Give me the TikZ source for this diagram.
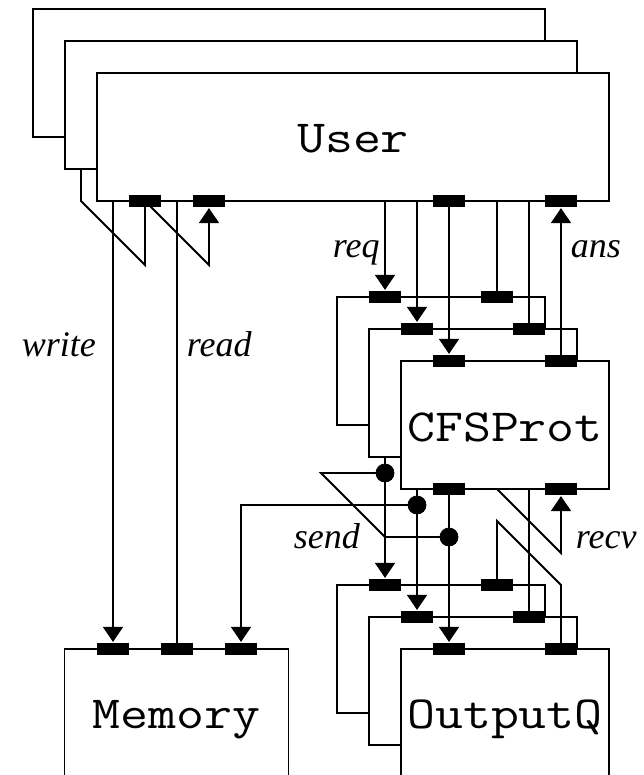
\documentclass[tikz,border=0pt]{standalone}
\usepackage{fontspec}
\setmainfont{Liberation Serif}
\usetikzlibrary{arrows.meta}
\begin{document}
\begin{tikzpicture}[x=1pt,y=-1pt, line width=1.8pt,
  port/.style={fill=black, inner sep=0pt, minimum width=32pt, minimum height=12.4pt},
  box/.style={draw, inner sep=0pt, minimum height=128pt},
  boxlabel/.style={font=\ttfamily\fontsize{46pt}{46pt}\selectfont, inner sep=0pt, anchor=base, xscale=1.18, transform shape},
  flowlabel/.style={font=\itshape\fontsize{36pt}{36pt}\selectfont, inner sep=0pt, anchor=base west},
  flow/.style={-{Triangle[width=20pt,length=15pt]}},
  dot/.style={circle, fill=black, draw=black, line width=0.8pt, inner sep=0pt, minimum size=18pt}
]
\useasboundingbox (0,0) rectangle (644,775);

% ---------- User stack ----------
\draw (65,137) -- (33,137) -- (33,9) -- (545,9) -- (545,41);
\draw (97,169) -- (65,169) -- (65,41) -- (577,41) -- (577,73);
\node[box, minimum width=512pt] (user) at (353,137) {};
\node[boxlabel] (tu) at (353,153) {User};
\node[port] (u1) at (145,201) {};
\node[port] (u2) at (209,201) {};
\node[port] (u3) at (449,201) {};
\node[port] (u4) at (561,201) {};

% ---------- CFSProt stack ----------
\draw (369,425) -- (337,425) -- (337,297) -- (545,297) -- (545,329);
\draw (401,457) -- (369,457) -- (369,329) -- (577,329) -- (577,361);
\node[box, minimum width=208pt] (cfs) at (505,425) {};
\node[boxlabel] (tc) at (505,441.5) {CFSProt};
\node[port] (cb1) at (385,297) {};
\node[port] (cb2) at (497,297) {};
\node[port] (cm1) at (417,329) {};
\node[port] (cm2) at (529,329) {};
\node[port] (cf1) at (449,361) {};
\node[port] (cf2) at (561,361) {};
\node[port] (cf3) at (449,489) {};
\node[port] (cf4) at (561,489) {};

% ---------- OutputQ stack ----------
\draw (369,713) -- (337,713) -- (337,585) -- (545,585) -- (545,617);
\draw (401,745) -- (369,745) -- (369,617) -- (577,617) -- (577,649);
\node[box, minimum width=208pt] (outq) at (505,713) {};
\node[boxlabel] (to) at (505,728) {OutputQ};
\node[port] (ob1) at (385,585) {};
\node[port] (ob2) at (497,585) {};
\node[port] (om1) at (417,617) {};
\node[port] (om2) at (529,617) {};
\node[port] (of1) at (449,649) {};
\node[port] (of2) at (561,649) {};

% ---------- Memory ----------
\node[box, minimum width=224pt] (mem) at (176.5,713) {};
\node[boxlabel] (tm) at (176.5,728) {Memory};
\node[port] (m1) at (113,649) {};
\node[port] (m2) at (177,649) {};
\node[port] (m3) at (241,649) {};

% ---------- User <-> Memory ----------
\coordinate (wb) at (81,169);
\coordinate (wb1) at (81,201);
\coordinate (wz) at (145,265);
\draw (wb) -- (wb1) -- (wz) -- (u1.center);
\coordinate (wm) at (113,201);
\draw[flow] (wm) -- (m1.north);
\coordinate (rz) at (209,265);
\draw[flow] (u1.center) -- (rz) -- (u2.south);
\coordinate (rm) at (177,201);
\draw (rm) -- (m2.center);

% ---------- User <-> CFSProt ----------
\coordinate (qb) at (385,201);
\draw[flow] (qb) -- (cb1.north);
\coordinate (qm) at (417,201);
\draw[flow] (qm) -- (cm1.north);
\draw[flow] (u3.center) -- (cf1.north);
\coordinate (ab) at (497,201);
\draw (ab) -- (cb2.center);
\coordinate (am) at (529,201);
\draw (am) -- (cm2.center);
\draw[flow] (cf2.center) -- (u4.south);

% ---------- CFSProt -> OutputQ / Memory (send) ----------
\coordinate (sb) at (385,457);
\coordinate (j1) at (385,473);
\draw[flow] (sb) -- (ob1.north);
\coordinate (sm) at (417,489);
\coordinate (j2) at (417,505);
\draw[flow] (sm) -- (om1.north);
\coordinate (j3) at (449,537);
\draw[flow] (cf3.center) -- (of1.north);
\coordinate (k1) at (321,473);
\coordinate (k2) at (385,537);
\draw (j1) -- (k1) -- (k2) -- (j3);
\coordinate (k3) at (241,505);
\draw[flow] (j2) -- (k3) -- (m3.north);

% ---------- OutputQ -> CFSProt (recv) ----------
\coordinate (vb) at (497,489);
\coordinate (vz) at (561,553);
\draw[flow] (vb) -- (vz) -- (cf4.south);
\coordinate (vm) at (529,489);
\draw (vm) -- (om2.center);
\coordinate (vy) at (497,521);
\coordinate (vx) at (561,585);
\draw (ob2.center) -- (vy) -- (vx) -- (of2.center);

% ---------- junction dots ----------
\node[dot] (d1) at (j1) {};
\node[dot] (d2) at (j2) {};
\node[dot] (d3) at (j3) {};

% ---------- labels ----------
\node[flowlabel] (lw) at (21,356) {write};
\node[flowlabel] (lr) at (186,356) {read};
\node[flowlabel] (lq) at (332,258) {req};
\node[flowlabel] (la) at (570,258) {ans};
\node[flowlabel] (ls) at (293,548) {send};
\node[flowlabel] (lv) at (575,548) {recv};
\end{tikzpicture}
\end{document}
